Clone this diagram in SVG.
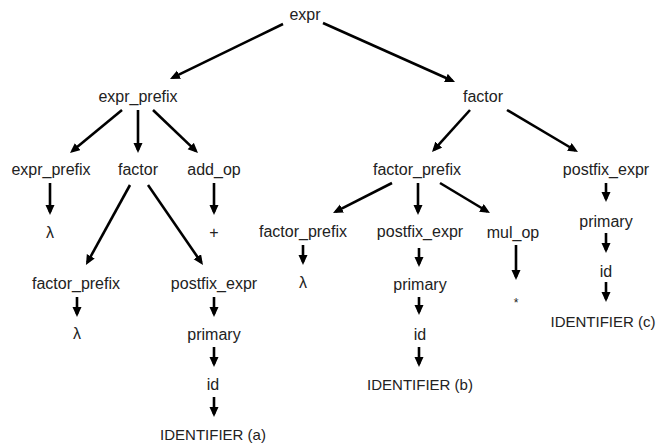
<svg xmlns="http://www.w3.org/2000/svg" width="658" height="445" viewBox="0 0 658 445">
<style>
  text { font-family: "Liberation Sans", Arial, Helvetica, sans-serif; font-size: 16px; fill: #222; text-anchor: middle; }
  text.caps { font-size: 15px; }
  .e { stroke: #000; stroke-width: 2.6; fill: none; marker-end: url(#ah); }
</style>
<defs>
  <marker id="ah" markerUnits="userSpaceOnUse" markerWidth="11" markerHeight="10" refX="7" refY="4.5" orient="auto">
    <path d="M0,0 L10,4.5 L0,9 Z" fill="#000"/>
  </marker>
</defs>
<rect width="658" height="445" fill="#fff"/>
<g id="connectors">
  <line class="e" x1="283" y1="24" x2="172.7" y2="77.7"/>
  <line class="e" x1="323" y1="23" x2="452.3" y2="80.8"/>
  <line class="e" x1="122" y1="110" x2="72.3" y2="151.1"/>
  <line class="e" x1="138" y1="110" x2="138" y2="150"/>
  <line class="e" x1="153" y1="110" x2="195.8" y2="150.9"/>
  <line class="e" x1="130" y1="185" x2="87.4" y2="262.4"/>
  <line class="e" x1="148" y1="185" x2="201.3" y2="262.5"/>
  <line class="e" x1="50" y1="183" x2="50" y2="212"/>
  <line class="e" x1="214" y1="183" x2="214" y2="212"/>
  <line class="e" x1="77" y1="297" x2="77" y2="314"/>
  <line class="e" x1="214" y1="297" x2="214" y2="314"/>
  <line class="e" x1="214" y1="347" x2="214" y2="364"/>
  <line class="e" x1="214" y1="397" x2="214" y2="414"/>
  <line class="e" x1="470" y1="110" x2="434.0" y2="149.8"/>
  <line class="e" x1="507" y1="110" x2="575.4" y2="150.5"/>
  <line class="e" x1="392" y1="183" x2="335.7" y2="211.6"/>
  <line class="e" x1="418" y1="183" x2="418" y2="212"/>
  <line class="e" x1="440" y1="183" x2="487.4" y2="211.5"/>
  <line class="e" x1="303" y1="245" x2="303" y2="262"/>
  <line class="e" x1="419" y1="248" x2="419" y2="264"/>
  <line class="e" x1="419" y1="297" x2="419" y2="312"/>
  <line class="e" x1="419" y1="347" x2="419" y2="364"/>
  <line class="e" x1="516" y1="245" x2="516" y2="277"/>
  <line class="e" x1="606" y1="183" x2="606" y2="199"/>
  <line class="e" x1="606" y1="233" x2="606" y2="250"/>
  <line class="e" x1="606" y1="282" x2="606" y2="299"/>
</g>
<g id="n-expr"><text x="305" y="20">expr</text></g>
<g id="n-expr_prefix1"><text x="138" y="102">expr_prefix</text></g>
<g id="n-factor1"><text x="483" y="102">factor</text></g>
<g id="n-expr_prefix2"><text x="51" y="175">expr_prefix</text></g>
<g id="n-factor2"><text x="138" y="175">factor</text></g>
<g id="n-add_op"><text x="214" y="175">add_op</text></g>
<g id="n-factor_prefix1"><text x="417" y="175">factor_prefix</text></g>
<g id="n-postfix_expr_c"><text x="606" y="175">postfix_expr</text></g>
<g id="n-lambda1"><text x="50" y="238">λ</text></g>
<g id="n-plus"><text x="214" y="238">+</text></g>
<g id="n-factor_prefix2"><text x="303" y="237">factor_prefix</text></g>
<g id="n-postfix_expr_b"><text x="420" y="237">postfix_expr</text></g>
<g id="n-mul_op"><text x="513" y="238">mul_op</text></g>
<g id="n-primary_c"><text x="606" y="227">primary</text></g>
<g id="n-factor_prefix3"><text x="76" y="289">factor_prefix</text></g>
<g id="n-postfix_expr_a"><text x="214" y="289">postfix_expr</text></g>
<g id="n-lambda2"><text x="303" y="288">λ</text></g>
<g id="n-star"><text x="516" y="307" style="font-size:12px">*</text></g>
<g id="n-primary_b"><text x="420" y="290">primary</text></g>
<g id="n-id_c"><text x="606" y="277">id</text></g>
<g id="n-lambda3"><text x="77" y="339">λ</text></g>
<g id="n-primary_a"><text x="214" y="340">primary</text></g>
<g id="n-id_b"><text x="420" y="340">id</text></g>
<g id="n-IDENT_c"><text class="caps" x="603" y="327">IDENTIFIER (c)</text></g>
<g id="n-id_a"><text x="213" y="390">id</text></g>
<g id="n-IDENT_b"><text class="caps" x="420" y="390">IDENTIFIER (b)</text></g>
<g id="n-IDENT_a"><text class="caps" x="213" y="440">IDENTIFIER (a)</text></g>
</svg>
